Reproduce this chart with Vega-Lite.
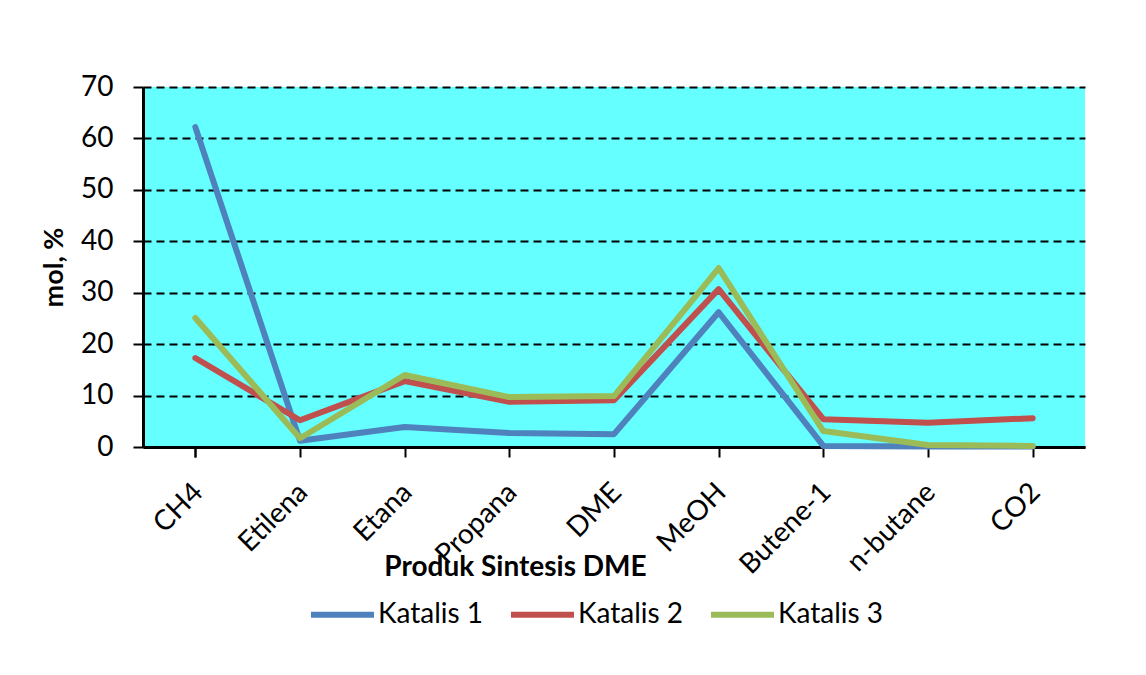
{
  "$schema": "https://vega.github.io/schema/vega-lite/v6.json",
  "width": 942,
  "height": 360,
  "autosize": {"type": "none"},
  "padding": {"left": 143, "top": 87, "right": 61, "bottom": 228},
  "background": "#FFFFFF",
  "data": {
    "values": [
      {"produk": "CH4", "katalis": "Katalis 1", "mol": 62.2},
      {"produk": "Etilena", "katalis": "Katalis 1", "mol": 1.2},
      {"produk": "Etana", "katalis": "Katalis 1", "mol": 3.9},
      {"produk": "Propana", "katalis": "Katalis 1", "mol": 2.7},
      {"produk": "DME", "katalis": "Katalis 1", "mol": 2.5},
      {"produk": "MeOH", "katalis": "Katalis 1", "mol": 26.2},
      {"produk": "Butene-1", "katalis": "Katalis 1", "mol": 0.2},
      {"produk": "n-butane", "katalis": "Katalis 1", "mol": 0.1},
      {"produk": "CO2", "katalis": "Katalis 1", "mol": 0.1},
      {"produk": "CH4", "katalis": "Katalis 2", "mol": 17.3},
      {"produk": "Etilena", "katalis": "Katalis 2", "mol": 5.2},
      {"produk": "Etana", "katalis": "Katalis 2", "mol": 12.8},
      {"produk": "Propana", "katalis": "Katalis 2", "mol": 8.8},
      {"produk": "DME", "katalis": "Katalis 2", "mol": 9.1},
      {"produk": "MeOH", "katalis": "Katalis 2", "mol": 30.7},
      {"produk": "Butene-1", "katalis": "Katalis 2", "mol": 5.4},
      {"produk": "n-butane", "katalis": "Katalis 2", "mol": 4.7},
      {"produk": "CO2", "katalis": "Katalis 2", "mol": 5.6},
      {"produk": "CH4", "katalis": "Katalis 3", "mol": 25.1},
      {"produk": "Etilena", "katalis": "Katalis 3", "mol": 1.7},
      {"produk": "Etana", "katalis": "Katalis 3", "mol": 14.0},
      {"produk": "Propana", "katalis": "Katalis 3", "mol": 9.7},
      {"produk": "DME", "katalis": "Katalis 3", "mol": 9.9},
      {"produk": "MeOH", "katalis": "Katalis 3", "mol": 34.8},
      {"produk": "Butene-1", "katalis": "Katalis 3", "mol": 3.1},
      {"produk": "n-butane", "katalis": "Katalis 3", "mol": 0.4},
      {"produk": "CO2", "katalis": "Katalis 3", "mol": 0.2}
    ]
  },
  "mark": {"type": "line", "strokeWidth": 6, "strokeCap": "round", "strokeJoin": "round"},
  "encoding": {
    "x": {
      "field": "produk",
      "type": "nominal",
      "sort": ["CH4", "Etilena", "Etana", "Propana", "DME", "MeOH", "Butene-1", "n-butane", "CO2"],
      "scale": {"type": "point", "padding": 0.5},
      "axis": {
        "title": "Produk Sintesis DME",
        "titleFont": "Lato",
        "titleFontSize": 28,
        "titleFontWeight": "bold",
        "titleColor": "#000000",
        "titleX": 372,
        "titleY": 128,
        "titleAlign": "center",
        "titleBaseline": "alphabetic",
        "labelAngle": -45,
        "labelAlign": "right",
        "labelBaseline": "top",
        "labelFont": "Lato",
        "labelFontSize": 28,
        "labelColor": "#000000",
        "labelPadding": 21,
        "labelOffset": -7,
        "domainColor": "#000000",
        "domainWidth": 3,
        "tickColor": "#000000",
        "tickWidth": 2,
        "tickSize": 10,
        "tickBand": "extent",
        "grid": false
      }
    },
    "y": {
      "field": "mol",
      "type": "quantitative",
      "scale": {"domain": [0, 70], "nice": false},
      "axis": {
        "title": "mol, %",
        "titleFont": "Lato",
        "titleFontSize": 27,
        "titleFontWeight": "bold",
        "titleColor": "#000000",
        "titlePadding": 12,
        "values": [0, 10, 20, 30, 40, 50, 60, 70],
        "labelFont": "Lato",
        "labelFontSize": 28,
        "labelColor": "#000000",
        "labelPadding": 20,
        "domainColor": "#000000",
        "domainWidth": 3,
        "tickColor": "#000000",
        "tickWidth": 2,
        "tickSize": 10,
        "grid": true,
        "gridColor": "#000000",
        "gridWidth": 2,
        "gridDash": [8, 5]
      }
    },
    "color": {
      "field": "katalis",
      "type": "nominal",
      "scale": {"domain": ["Katalis 1", "Katalis 2", "Katalis 3"], "range": ["#4F81BD", "#C0504D", "#9BBB59"]},
      "legend": {
        "title": null,
        "orient": "none",
        "direction": "horizontal",
        "legendX": 165,
        "legendY": 493,
        "symbolType": "stroke",
        "symbolSize": 3969,
        "symbolStrokeWidth": 6,
        "labelFont": "Lato",
        "labelFontSize": 28,
        "labelColor": "#000000",
        "labelOffset": 1,
        "columnPadding": 15,
        "padding": 0
      }
    }
  },
  "config": {
    "view": {"fill": "#66FFFF", "stroke": null}
  }
}
